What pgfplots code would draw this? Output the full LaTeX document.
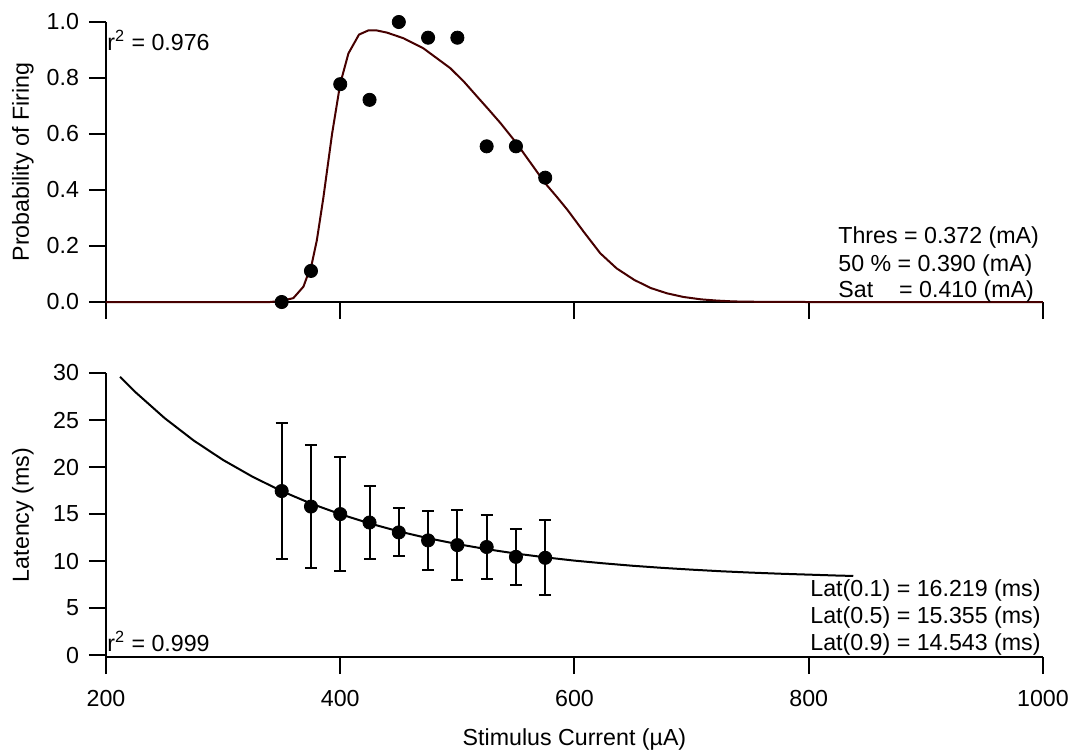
\documentclass[border=0pt]{standalone}
\usepackage{fontspec}
\setmainfont{Liberation Sans}
\usepackage{pgfplots}
\pgfplotsset{compat=1.18}
\definecolor{fitred}{RGB}{70,0,0}
\newcommand{\fsz}{\fontsize{11.6}{13.5}\selectfont}

\pgfplotsset{
  panel/.style={
    width=468.5pt, scale only axis, anchor=south west,
    xmin=200, xmax=1000,
    axis lines=left, axis line style={-, line width=1pt},
    tick align=outside, major tick length=8.5pt,
    tick style={black, line width=1pt},
    xtick={200,400,600,800,1000},
    tick label style={font=\fsz},
    xticklabel style={yshift=-4.5pt},
    yticklabel style={xshift=-1.5pt},
    label style={font=\fsz},
    clip=false,
  },
}

\begin{document}
\begin{tikzpicture}
\path[use as bounding box] (0,0) rectangle (535.5pt,-375.5pt);

% firing probability
\begin{axis}[panel, at={(53pt,-151pt)}, height=140pt,
  ymin=0, ymax=1,
  ytick={0,0.2,0.4,0.6,0.8,1}, yticklabels={0.0,0.2,0.4,0.6,0.8,1.0},
  xticklabels={},
  ylabel={Probability of Firing},
  ylabel style={at={(axis description cs:-0.0886,0.5)}, anchor=center},
]
\addplot[fitred, line width=1pt] coordinates {
 (200,0)(300,0)(340,0)(350,0.004)(360,0.014)(368.6,0.055)(375.8,0.138)
 (380,0.22)(385.5,0.37)(393,0.60)(400,0.78)(407,0.888)(416,0.955)
 (424,0.970)(431,0.970)(440,0.962)(454,0.942)(471,0.906)(494,0.835)
 (506,0.785)(517,0.733)(527,0.686)(537,0.638)(550,0.570)(562,0.500)
 (575,0.424)(585,0.375)(594,0.329)(608,0.250)(622,0.174)(636,0.120)
 (651,0.079)(665,0.050)(679,0.031)(693,0.018)(708,0.0095)(722,0.005)
 (736,0.002)(760,0.0005)(800,0)(1000,0)};
\addplot[only marks, mark=*, mark size=3.3pt, black] coordinates {
 (350,0)(375,0.111)(400,0.778)(425,0.722)(450,1.0)(475,0.944)
 (500,0.944)(525,0.556)(550,0.556)(575,0.444)};
\end{axis}

% latency
\begin{axis}[panel, at={(53pt,-328.5pt)}, height=142pt,
  ymin=-0.2, ymax=30,
  ytick={0,5,10,15,20,25,30}, yticklabels={0,5,10,15,20,25,30},
  xticklabels={200,400,600,800,1000},
  ylabel={Latency (ms)},
  ylabel style={at={(axis description cs:-0.0886,0.5)}, anchor=center},
  xlabel={Stimulus Current (µA)},
  xlabel style={at={(axis description cs:0.5,-0.313)}, anchor=base},
]
\addplot[black, line width=1pt] coordinates {
 (212,29.6)(225,27.98)(250,25.21)(275,22.81)(300,20.75)(325,18.98)
 (350,17.44)(375,16.12)(400,14.99)(425,14.01)(450,13.16)(475,12.43)
 (500,11.81)(525,11.27)(550,10.80)(575,10.40)(600,10.05)(625,9.76)
 (650,9.50)(675,9.28)(700,9.09)(725,8.92)(750,8.78)(775,8.66)
 (800,8.56)(825,8.46)(838,8.42)};
\addplot[black, only marks, mark=*, mark size=3.3pt,
  error bars/.cd, y dir=both, y explicit,
  error bar style={line width=1pt, black},
  error mark options={rotate=90, line width=1pt, mark size=3pt, black}]
 coordinates {
 (350,17.45) +- (0,7.2)
 (375,15.8) +- (0,6.5)
 (400,15.0) +- (0,6.1)
 (425,14.1) +- (0,3.9)
 (450,13.05) +- (0,2.55)
 (475,12.2) +- (0,3.15)
 (500,11.7) +- (0,3.7)
 (525,11.5) +- (0,3.4)
 (550,10.45) +- (0,2.95)
 (575,10.35) +- (0,4.0)};
\end{axis}

\begin{scope}[every node/.style={inner sep=0pt, font=\fsz}]
\node[anchor=base west] at (53.5pt,-25pt) {r\textsuperscript{2} = 0.976};
\node[anchor=base west] at (419pt,-121.7pt) {Thres = 0.372 (mA)};
\node[anchor=base west] at (419pt,-135.5pt) {50 \% = 0.390 (mA)};
\node[anchor=base west] at (419pt,-148.7pt) {Sat\hspace{13pt}= 0.410 (mA)};
\node[anchor=base west] at (53.5pt,-325.8pt) {r\textsuperscript{2} = 0.999};
\node[anchor=base west] at (405pt,-298.3pt) {Lat(0.1) = 16.219 (ms)};
\node[anchor=base west] at (405pt,-311.7pt) {Lat(0.5) = 15.355 (ms)};
\node[anchor=base west] at (405pt,-325.3pt) {Lat(0.9) = 14.543 (ms)};
\end{scope}
\end{tikzpicture}
\end{document}
